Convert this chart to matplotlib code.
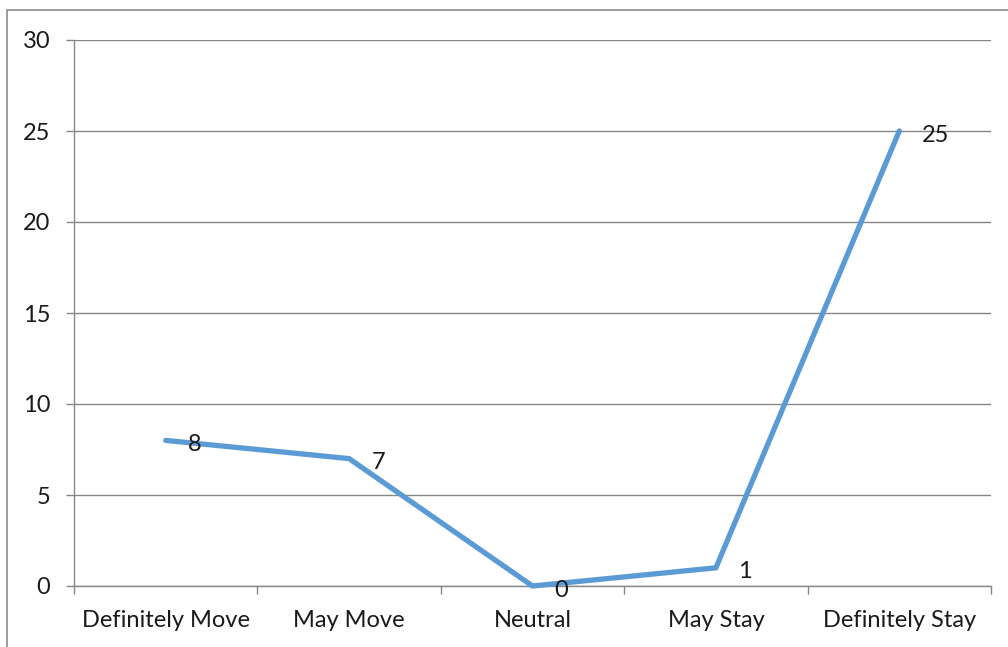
import matplotlib.pyplot as plt
from matplotlib.patches import Rectangle

# survey responses
categories = ["Definitely Move", "May Move", "Neutral", "May Stay", "Definitely Stay"]
counts = [8, 7, 0, 1, 25]

plt.rcParams['font.family'] = ['Lato', 'DejaVu Sans']

fig = plt.figure(figsize=(10.08, 6.47), dpi=100)
W, H = 1008, 647
# plot area in pixels: left 74, right 991, top 40, bottom 586
ax = fig.add_axes([74 / W, 1 - 586 / H, (991 - 74) / W, (586 - 40) / H])

# outer chart frame (only top and left edges show)
fig.patches.append(Rectangle((7 / W, -0.1), 1.2, 1 - 10 / H + 0.1, transform=fig.transFigure,
                             fill=False, edgecolor='#8c8c8c', linewidth=1.2))

grid_col = '#868686'
x = list(range(len(categories)))
ax.plot(x, counts, color='#5B9BD5', linewidth=3.8, solid_capstyle='round',
        solid_joinstyle='miter', zorder=3, clip_on=False)

for xi, v in zip(x, counts):
    ax.annotate(str(v), (xi, v), xytext=(16, -3), textcoords='offset points',
                ha='left', va='center', fontsize=17, color='#1a1a1a', zorder=4)

ax.set_xlim(-0.5, len(categories) - 0.5)
ax.set_ylim(0, 30)
ax.set_yticks(range(0, 31, 5))
ax.set_xticks(x)
ax.set_xticklabels(categories)
ax.set_xticks([i - 0.5 for i in range(len(categories) + 1)], minor=True)
ax.tick_params(axis='x', which='major', length=0, pad=17, labelsize=17, labelcolor='#1a1a1a')
ax.tick_params(axis='x', which='minor', length=6, width=1, color=grid_col, direction='out')
ax.tick_params(axis='y', length=6, width=1, color=grid_col, pad=11, labelsize=17,
               labelcolor='#1a1a1a')

ax.yaxis.grid(True, color=grid_col, linewidth=1)
ax.set_axisbelow(True)
for s in ['top', 'right']:
    ax.spines[s].set_visible(False)
for s in ['left', 'bottom']:
    ax.spines[s].set_color(grid_col)
    ax.spines[s].set_linewidth(1)

fig.savefig("out.png", dpi=100)
